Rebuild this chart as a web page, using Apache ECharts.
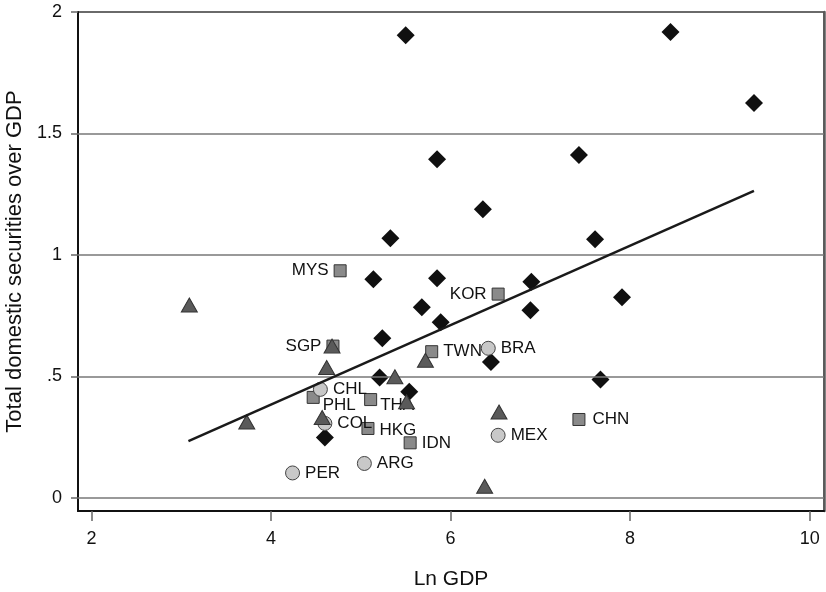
<!DOCTYPE html>
<html>
<head>
<meta charset="utf-8">
<script src="https://cdn.jsdelivr.net/npm/echarts@6/dist/echarts.min.js"></script>
<style>
  html, body { margin: 0; padding: 0; background: #fff; }
  #chart { width: 826px; height: 592px; }
</style>
</head>
<body>
<div id="chart"></div>
<script>
// Unlabelled economies (diamonds)
const diamondX = [5.50, 8.45, 9.38, 5.85, 7.43, 6.36, 7.61, 5.33, 5.14, 5.85, 6.90, 7.91, 5.68, 5.89, 6.89, 6.45, 7.67, 5.24, 5.21, 5.54, 4.60];
const diamondY = [1.904, 1.918, 1.625, 1.394, 1.412, 1.188, 1.065, 1.069, 0.900, 0.904, 0.890, 0.826, 0.785, 0.723, 0.773, 0.560, 0.488, 0.657, 0.496, 0.437, 0.249];

// Unlabelled economies (triangles)
const triangleX = [3.09, 3.73, 4.68, 4.62, 4.57, 5.38, 5.51, 5.72, 6.54, 6.38];
const triangleY = [0.794, 0.313, 0.625, 0.537, 0.331, 0.499, 0.396, 0.567, 0.354, 0.048];

// East Asian economies (squares)
const squareCodes = ['MYS', 'KOR', 'SGP', 'TWN', 'PHL', 'THA', 'HKG', 'IDN', 'CHN'];
const squareX = [4.77, 6.53, 4.69, 5.79, 4.47, 5.11, 5.08, 5.55, 7.43];
const squareY = [0.935, 0.839, 0.625, 0.602, 0.414, 0.405, 0.286, 0.227, 0.323];

// Latin American economies (circles)
const circleCodes = ['CHL', 'COL', 'PER', 'ARG', 'BRA', 'MEX'];
const circleX = [4.55, 4.60, 4.24, 5.04, 6.42, 6.53];
const circleY = [0.447, 0.307, 0.103, 0.142, 0.616, 0.258];

// Fitted line endpoints
const fitX = [3.08, 9.38];
const fitY = [0.234, 1.264];

// Axis ticks
const xTicks = [2, 4, 6, 8, 10];
const yTicks = [0, 0.5, 1, 1.5, 2];
const yTickText = ['0', '.5', '1', '1.5', '2'];

// Label placement for a few crowded codes
const labelLeft = ['MYS', 'KOR', 'SGP'];
const labelNudge = { PHL: [-2, 8], THA: [-2, 6], HKG: [0, 2], CHN: [2, 0] };

const FONT = '"Liberation Sans", Arial, Helvetica, sans-serif';
const INK = '#111111';

function pairs(xs, ys) { return xs.map((x, i) => [x, ys[i]]); }

function labelled(codes, xs, ys) {
  return codes.map((c, i) => {
    const left = labelLeft.indexOf(c) >= 0;
    return {
      value: [xs[i], ys[i]],
      name: c,
      label: {
        show: true,
        formatter: c,
        position: left ? 'left' : 'right',
        distance: 5,
        offset: labelNudge[c] || [0, 0]
      }
    };
  });
}

const labelBase = {
  color: INK,
  fontSize: 17,
  fontFamily: FONT,
  opacity: 1
};

const chart = echarts.init(document.getElementById('chart'), null, { renderer: 'canvas' });

chart.setOption({
  animation: false,
  backgroundColor: '#ffffff',
  grid: {
    left: 78, right: 2, top: 12, bottom: 81,
    containLabel: false,
    outerBoundsMode: 'none',
    show: true, borderColor: '#3a3a3a', borderWidth: 1.5, backgroundColor: 'transparent'
  },
  xAxis: {
    type: 'value',
    min: 1.85, max: 10.16,
    name: 'Ln GDP',
    nameLocation: 'middle',
    nameGap: 58,
    nameTextStyle: { fontSize: 21, color: INK, fontFamily: FONT },
    axisLine: { show: true, onZero: false, lineStyle: { color: '#111', width: 2 } },
    axisTick: { show: true, customValues: xTicks, length: 10, lineStyle: { color: '#666', width: 1.5 } },
    axisLabel: { customValues: xTicks, margin: 19, fontSize: 18, color: INK, fontFamily: FONT },
    splitLine: { show: false }
  },
  yAxis: [{
    type: 'value',
    min: -0.0536, max: 2,
    name: 'Total domestic securities over GDP',
    nameLocation: 'middle',
    nameGap: 48,
    nameTextStyle: { fontSize: 22, color: INK, fontFamily: FONT },
    axisLine: { show: true, onZero: false, lineStyle: { color: '#111', width: 2 } },
    axisTick: { show: true, customValues: yTicks, length: 7, lineStyle: { color: '#666', width: 1.5 } },
    axisLabel: {
      customValues: yTicks, margin: 16, fontSize: 18, color: INK, fontFamily: FONT,
      formatter: v => yTickText[yTicks.indexOf(v)] ?? ''
    },
    splitLine: { show: false }
  }, {
    type: 'value', position: 'right', min: -0.0536, max: 2,
    axisLine: { show: true, lineStyle: { color: '#5a5a5a', width: 2.5 } },
    axisTick: { show: false }, axisLabel: { show: false }, splitLine: { show: false }
  }],
  series: [
    {
      type: 'line',
      data: [],
      silent: true,
      markLine: {
        silent: true,
        symbol: 'none',
        label: { show: false },
        lineStyle: { color: '#777', width: 1.5, type: 'solid' },
        data: yTicks.slice(0, 4).map(v => ({ yAxis: v }))
      }
    },
    {
      type: 'scatter', name: 'diamonds',
      symbol: 'diamond', symbolSize: 18,
      itemStyle: { color: '#101010', opacity: 1 },
      data: pairs(diamondX, diamondY), z: 3
    },
    {
      type: 'scatter', name: 'squares',
      symbol: 'rect', symbolSize: 12,
      itemStyle: { color: '#8a8a8a', borderColor: '#333', borderWidth: 1, opacity: 1 },
      label: labelBase,
      data: labelled(squareCodes, squareX, squareY), z: 4
    },
    {
      type: 'scatter', name: 'circles',
      symbol: 'circle', symbolSize: 14,
      itemStyle: { color: '#c8c8c8', borderColor: '#444', borderWidth: 1, opacity: 1 },
      label: labelBase,
      data: labelled(circleCodes, circleX, circleY), z: 5
    },
    {
      type: 'scatter', name: 'triangles',
      symbol: 'triangle', symbolSize: [16, 14],
      itemStyle: { color: '#5a5a5a', borderColor: '#333', borderWidth: 1, opacity: 1 },
      data: pairs(triangleX, triangleY), z: 6
    },
    {
      type: 'line', name: 'fit',
      data: pairs(fitX, fitY),
      symbol: 'none',
      lineStyle: { color: '#1a1a1a', width: 2.5 },
      z: 7
    }
  ]
});
</script>
</body>
</html>
